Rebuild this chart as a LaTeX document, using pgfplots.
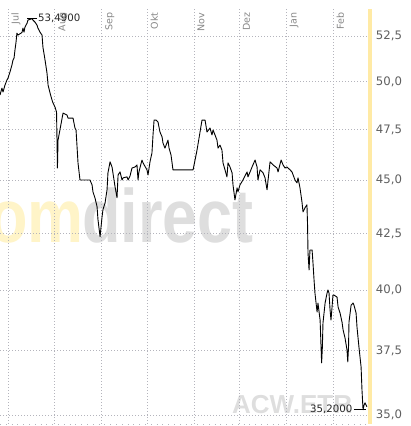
\documentclass[border=0pt]{standalone}
\usepackage{fontspec}
\setmainfont{DejaVu Sans}
\newfontfamily\arialfont{Liberation Sans}
\usepackage{pgfplots}
\pgfplotsset{compat=1.18}
\definecolor{gridc}{RGB}{180,180,188}
\definecolor{wmgray}{RGB}{222,222,222}
\definecolor{wmyellow}{RGB}{255,244,200}
\definecolor{yline}{RGB}{255,234,165}
\definecolor{tlab}{RGB}{95,95,95}
\definecolor{mlab}{RGB}{135,135,135}
\begin{document}
\begin{tikzpicture}
\path[use as bounding box] (0,-2pt) rectangle (411pt,424pt);
\clip (0,-2pt) rectangle (411pt,424pt);
% watermarks
\node[anchor=base east, inner sep=0pt, text=wmyellow, font=\arialfont\bfseries\fontsize{63}{63}\selectfont, yscale=1.2] at (84pt,181pt) {com};
\node[anchor=base west, inner sep=0pt, text=wmgray, font=\arialfont\bfseries\fontsize{63}{63}\selectfont, yscale=1.2] at (82pt,181pt) {direct};
\node[anchor=base west, inner sep=0pt, text=wmgray, font=\arialfont\bfseries\fontsize{26}{26}\selectfont] at (232pt,11pt) {ACW.ETR};
\begin{axis}[
  at={(0,0)}, anchor=south west,
  scale only axis, width=370pt, height=415pt,
  xmin=-5.29, xmax=239.4,
  ymode=log, ymin=34.67, ymax=54.05,
  axis line style={draw=none},
  xtick=\empty,
  ytick={35,37.5,40,42.5,45,47.5,50,52.5},
  yticklabels={{35,0},{37,5},{40,0},{42,5},{45,0},{47,5},{50,0},{52,5}},
  yticklabel pos=right,
  major tick length=0pt,
  ymajorgrids=true,
  major grid style={gridc, line width=0.8pt, dash pattern=on 0.8pt off 2.2pt},
  yticklabel style={font=\fontsize{11.7}{14}\selectfont, text=tlab, inner sep=0pt, xshift=5.7pt, anchor=west},
  clip=false,
]
\draw[gridc, line width=0.8pt, dash pattern=on 0.8pt off 5pt] (rel axis cs:0,0) -- (rel axis cs:1,0);
\foreach \d/\m in {0/Jul,31/Aug,62/Sep,92/Okt,123/Nov,153/Dez,184/Jan,215/Feb}{
  \edef\temp{\noexpand\draw[gridc, line width=0.8pt, dash pattern=on 0.8pt off 2.2pt] (axis cs:\d,34.67) -- (axis cs:\d,54.05);
  \noexpand\node[rotate=90, anchor=north east, inner sep=0pt, text=mlab, font=\noexpand\fontsize{9.5}{11}\noexpand\selectfont] at (axis cs:\d+2.2,53.84) {\m};}
  \temp
}
\draw[yline, line width=4pt] (rel axis cs:1,0) -- (rel axis cs:1,1);
\addplot[black, line width=0.9pt, line join=round] coordinates {
(-5.3,49.29) (-4.0,49.66) (-3.3,49.45) (-2.0,49.82) (-0.7,50.09) (0.0,50.19)
(1.3,50.52) (2.6,50.90) (3.3,51.17) (4.0,51.28) (4.6,51.72) (5.3,52.16)
(5.9,52.67) (6.6,52.56) (8.6,52.67) (9.3,52.72) (9.9,52.95) (10.6,52.72)
(11.2,53.01) (12.6,53.23) (13.2,53.41) (14.6,53.45) (15.9,53.49) (16.5,53.41)
(17.9,53.29) (19.2,53.12) (19.8,52.95) (21.2,52.72) (22.5,52.56) (23.1,51.89)
(24.5,51.17) (25.8,50.46) (26.5,49.82) (27.8,49.40) (29.1,49.03) (29.8,48.87)
(31.1,48.66) (32.1,48.40) (32.7,45.59) (33.1,46.97) (36.4,48.35) (39.0,48.25)
(39.7,48.09) (43.0,48.09) (44.3,47.58) (45.0,47.48) (46.3,45.84) (47.6,45.01)
(54.2,45.01) (55.6,44.77) (56.2,44.44) (57.5,44.16) (58.9,43.74) (59.5,43.14)
(60.9,42.36) (62.2,43.27) (62.8,43.60) (64.2,43.92) (65.5,44.54) (66.1,45.35)
(67.5,45.89) (68.8,45.64) (69.4,45.35) (70.8,44.68) (72.1,44.16) (72.8,45.25)
(74.1,45.40) (75.4,45.01) (76.1,45.11) (78.7,45.16) (79.4,45.01) (80.7,45.20)
(82.0,45.59) (84.0,45.64) (85.3,45.74) (86.0,45.01) (86.6,45.40) (88.6,45.98)
(89.3,45.84) (91.9,45.50) (92.6,45.25) (93.9,45.89) (95.2,46.33) (95.9,47.23)
(96.6,47.99) (97.9,47.99) (99.2,47.89) (100.5,47.38) (101.9,47.13) (102.5,46.82)
(103.8,46.57) (105.8,46.97) (106.5,46.57) (107.8,46.23) (108.5,45.84) (109.1,45.50)
(122.4,45.50) (123.7,45.98) (125.0,46.47) (127.0,47.38) (128.3,47.99) (130.3,47.99)
(131.6,47.38) (133.6,47.58) (134.9,47.23) (135.6,47.48) (136.9,47.23) (138.2,46.97)
(138.9,46.57) (140.2,46.72) (141.5,46.47) (142.2,45.84) (143.5,45.50) (144.8,45.16)
(145.5,45.84) (146.8,45.64) (148.2,45.35) (148.8,44.77) (150.1,44.06) (151.5,44.63)
(152.1,44.44) (153.4,44.77) (155.4,45.01) (158.1,45.40) (158.7,45.16) (160.1,45.40)
(161.4,45.64) (163.4,45.98) (164.7,45.64) (165.3,45.01) (166.7,45.50) (168.7,45.35)
(170.0,45.11) (171.3,44.54) (172.0,45.01) (173.3,45.89) (175.3,45.74) (177.9,45.59)
(178.6,45.40) (180.6,45.98) (181.9,45.74) (183.2,45.59) (184.5,45.64) (186.5,45.50)
(187.8,45.40) (189.8,45.01) (191.1,44.87) (191.8,45.11) (193.1,44.63) (194.4,43.97)
(195.1,43.50) (196.4,43.69) (197.7,43.83) (198.1,42.91) (198.4,41.64) (199.1,40.88)
(199.7,41.76) (201.1,41.76) (201.7,41.18) (202.4,40.44) (203.0,39.88) (204.4,39.08)
(205.0,39.46) (206.4,38.75) (207.4,37.01) (207.9,37.64) (208.3,38.62) (209.7,39.46)
(211.0,39.88) (211.6,40.01) (212.3,39.88) (213.0,39.16) (213.6,38.75) (214.3,39.29)
(214.9,39.80) (215.6,39.80) (217.6,39.71) (218.3,39.29) (219.6,39.04) (220.9,38.66)
(221.6,38.34) (222.9,38.01) (224.2,37.52) (224.7,37.05) (225.2,37.64) (225.5,38.66)
(226.9,39.37) (228.2,39.46) (228.8,39.37) (230.2,39.04) (230.8,38.46) (232.1,37.64)
(233.5,36.85) (234.1,35.95) (234.8,35.20) (235.5,35.38) (236.1,35.46) (237.4,35.31)
};
\addplot[black, line width=0.8pt] coordinates {(12.6,53.49) (19.2,53.49)};
\addplot[black, line width=0.8pt] coordinates {(228.8,35.20) (236.8,35.20)};
\node[anchor=west, inner sep=0pt, text=black!85, font=\fontsize{10.2}{12}\selectfont] at (axis cs:19.8,53.49) {53,4900};
\node[anchor=east, inner sep=0pt, text=black!85, font=\fontsize{10.2}{12}\selectfont] at (axis cs:227.8,35.20) {35,2000};
\end{axis}
\end{tikzpicture}
\end{document}
